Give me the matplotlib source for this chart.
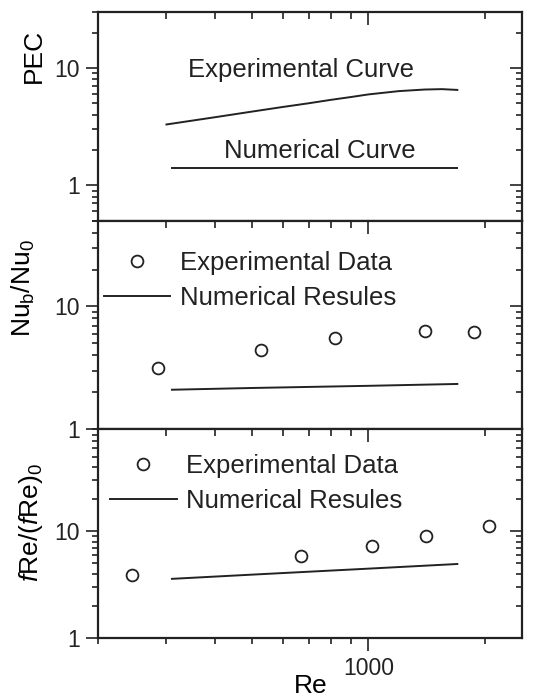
import matplotlib
matplotlib.use("Agg")
import matplotlib.pyplot as plt
from matplotlib import ticker

plt.rcParams['font.family'] = ['Liberation Sans', 'DejaVu Sans']
plt.rcParams['mathtext.fontset'] = 'custom'
plt.rcParams['mathtext.rm'] = 'Liberation Sans'
plt.rcParams['mathtext.it'] = 'Liberation Sans:italic'
plt.rcParams['text.color'] = '#222222'

# --- data ---
# PEC panel
re_pec_exp = [300, 400, 500, 600, 700, 800, 900, 1000, 1200, 1400, 1550, 1700]
pec_exp = [3.3, 3.8, 4.25, 4.65, 5.0, 5.35, 5.65, 5.95, 6.35, 6.55, 6.6, 6.5]
re_pec_num = [310, 700, 1200, 1700]
pec_num = [1.4, 1.4, 1.4, 1.4]

# Nu_b / Nu_0 panel
re_nu_exp = [285, 527, 820, 1400, 1880]
nu_exp = [3.14, 4.42, 5.49, 6.32, 6.17]
re_nu_num = [310, 500, 1000, 1700]
nu_num = [2.10, 2.17, 2.26, 2.34]

# fRe / (fRe)_0 panel
re_f_exp = [245, 670, 1020, 1410, 2050]
f_exp = [3.91, 5.81, 7.23, 9.1, 11.1]
re_f_num = [310, 500, 1000, 1700]
f_num = [3.58, 3.92, 4.46, 4.93]

ylims = [(0.5, 30), (1, 50), (1, 90)]
ylabels = ['PEC', r'Nu$_\mathrm{b}$/Nu$_\mathrm{0}$',
           r'$\mathit{f}$Re/($\mathit{f}$Re)$_\mathrm{0}$']
ylabel_y = [0.79, 0.676, 0.555]
ylabel_x = [-0.125, -0.145, -0.125]

fs_text = 18.5
fs_tick = 16.5
ink = '#222222'

fig, axes = plt.subplots(3, 1, sharex=True, figsize=(5.35, 7.0), dpi=100)
fig.subplots_adjust(left=0.184, right=0.9757, top=0.9829, bottom=0.0886, hspace=0)

ax1, ax2, ax3 = axes

ax1.plot(re_pec_exp, pec_exp, '-', color=ink, lw=1.4)
ax1.plot(re_pec_num, pec_num, '-', color=ink, lw=1.4)
ax1.text(0.211, 0.686, 'Experimental Curve', transform=ax1.transAxes,
         fontsize=fs_text, ha='left', va='baseline')
ax1.text(0.296, 0.301, 'Numerical Curve', transform=ax1.transAxes,
         fontsize=fs_text, ha='left', va='baseline')

ax2.plot(re_nu_exp, nu_exp, 'o', mfc='none', mec=ink, ms=8.5, mew=1.3,
         label='Experimental Data')
ax2.plot(re_nu_num, nu_num, '-', color=ink, lw=1.4, label='Numerical Resules')

ax3.plot(re_f_exp, f_exp, 'o', mfc='none', mec=ink, ms=8.5, mew=1.3,
         label='Experimental Data')
ax3.plot(re_f_num, f_num, '-', color=ink, lw=1.4, label='Numerical Resules')

leg_anchor = {ax2: (0.012, 0.854), ax3: (0.027, 0.880)}
for ax, anchor in leg_anchor.items():
    ax.legend(loc='upper left', bbox_to_anchor=anchor, frameon=False,
              fontsize=fs_text, handlelength=2.6, handletextpad=0.36,
              labelspacing=0.41, borderpad=0, borderaxespad=0, numpoints=1)

fmt = ticker.FuncFormatter(lambda v, p: f'{v:g}')
for i, ax in enumerate(axes):
    ax.set_xscale('log')
    ax.set_yscale('log')
    ax.set_xlim(200, 2500)
    ax.set_ylim(*ylims[i])
    for s in ax.spines.values():
        s.set_linewidth(1.6)
        s.set_color(ink)
    ax.yaxis.set_major_locator(ticker.LogLocator(base=10))
    ax.yaxis.set_minor_locator(ticker.LogLocator(base=10, subs=range(2, 10)))
    ax.yaxis.set_major_formatter(fmt)
    ax.yaxis.set_minor_formatter(ticker.NullFormatter())
    ax.xaxis.set_major_locator(ticker.LogLocator(base=10))
    ax.xaxis.set_minor_locator(ticker.LogLocator(base=10, subs=range(2, 10)))
    ax.xaxis.set_major_formatter(fmt)
    ax.xaxis.set_minor_formatter(ticker.NullFormatter())
    ax.tick_params(which='both', direction='out', width=1.2, colors=ink,
                   labelsize=fs_tick, pad=4.5)
    ax.tick_params(which='major', length=9)
    ax.tick_params(which='minor', length=4.5)
    ax.set_ylabel(ylabels[i], fontsize=19)
    ax.yaxis.set_label_coords(ylabel_x[i], ylabel_y[i])

    # inward ticks on the top and right sides
    top = ax.secondary_xaxis('top')
    top.tick_params(which='both', direction='in', width=1.2, colors=ink,
                    labeltop=False)
    top.tick_params(which='major', length=9)
    top.tick_params(which='minor', length=5)
    top.xaxis.set_major_formatter(ticker.NullFormatter())
    top.xaxis.set_minor_formatter(ticker.NullFormatter())
    top.spines['top'].set_visible(False)
    right = ax.secondary_yaxis('right')
    right.tick_params(which='both', direction='in', width=1.2, colors=ink,
                      labelright=False)
    right.tick_params(which='major', length=9)
    right.tick_params(which='minor', length=4.5)
    right.yaxis.set_major_formatter(ticker.NullFormatter())
    right.yaxis.set_minor_formatter(ticker.NullFormatter())
    right.spines['right'].set_visible(False)

ax3.set_xlabel('Re', fontsize=19, labelpad=-4)

fig.savefig('out.png', dpi=100)
